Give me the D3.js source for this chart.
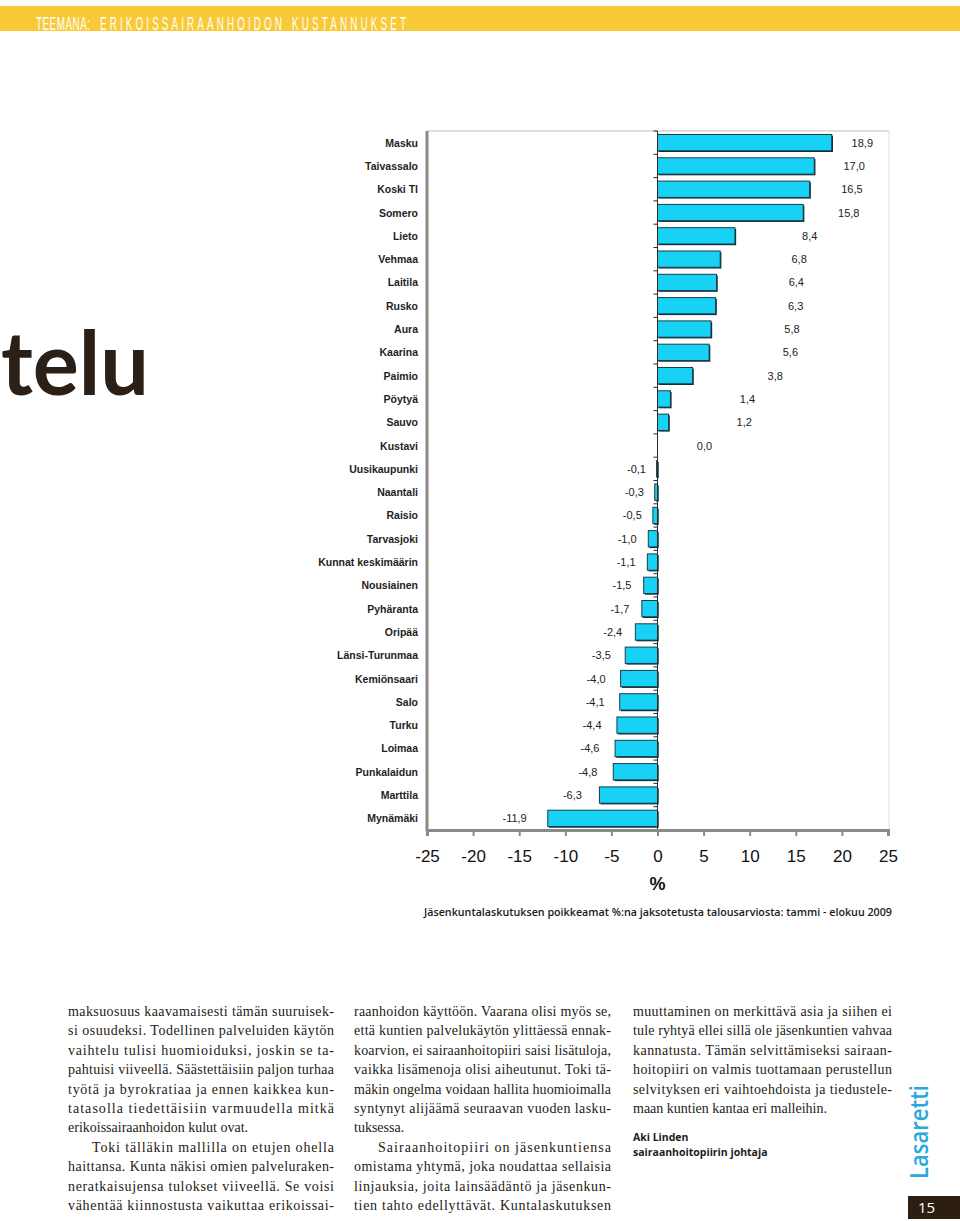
<!DOCTYPE html>
<html><head><meta charset="utf-8">
<script src="https://cdn.jsdelivr.net/npm/d3@7"></script>
<style>
html,body{margin:0;padding:0;background:#fff;}
svg{display:block;}
</style></head>
<body>
<svg id="c" width="960" height="1221"></svg>
<script>
const categories = ["Masku","Taivassalo","Koski Tl","Somero","Lieto","Vehmaa","Laitila","Rusko","Aura","Kaarina","Paimio","Pöytyä","Sauvo","Kustavi","Uusikaupunki","Naantali","Raisio","Tarvasjoki","Kunnat keskimäärin","Nousiainen","Pyhäranta","Oripää","Länsi-Turunmaa","Kemiönsaari","Salo","Turku","Loimaa","Punkalaidun","Marttila","Mynämäki"];
const values = [18.9,17.0,16.5,15.8,8.4,6.8,6.4,6.3,5.8,5.6,3.8,1.4,1.2,0.0,-0.1,-0.3,-0.5,-1.0,-1.1,-1.5,-1.7,-2.4,-3.5,-4.0,-4.1,-4.4,-4.6,-4.8,-6.3,-11.9];
const xTicks = [-25,-20,-15,-10,-5,0,5,10,15,20,25];
const headerParts = ["TEEMANA:", "ERIKOISSAIRAANHOIDON", "KUSTANNUKSET"];
const caption = "Jäsenkuntalaskutuksen poikkeamat %:na jaksotetusta talousarviosta: tammi - elokuu 2009";
const col1 = [
 ["maksuosuus kaavamaisesti tämän suuruisek-",0,1],
 ["si osuudeksi. Todellinen palveluiden käytön",0,1],
 ["vaihtelu tulisi huomioiduksi, joskin se ta-",0,1],
 ["pahtuisi viiveellä. Säästettäisiin paljon turhaa",0,1],
 ["työtä ja byrokratiaa ja ennen kaikkea kun-",0,1],
 ["tatasolla tiedettäisiin varmuudella mitkä",0,1],
 ["erikoissairaanhoidon kulut ovat.",0,0],
 ["Toki tälläkin mallilla on etujen ohella",1,1],
 ["haittansa. Kunta näkisi omien palveluraken-",0,1],
 ["neratkaisujensa tulokset viiveellä. Se voisi",0,1],
 ["vähentää kiinnostusta vaikuttaa erikoissai-",0,1]
];
const col2 = [
 ["raanhoidon käyttöön. Vaarana olisi myös se,",0,1],
 ["että kuntien palvelukäytön ylittäessä ennak-",0,1],
 ["koarvion, ei sairaanhoitopiiri saisi lisätuloja,",0,1],
 ["vaikka lisämenoja olisi aiheutunut. Toki tä-",0,1],
 ["mäkin ongelma voidaan hallita huomioimalla",0,1],
 ["syntynyt alijäämä seuraavan vuoden lasku-",0,1],
 ["tuksessa.",0,0],
 ["Sairaanhoitopiiri on jäsenkuntiensa",1,1],
 ["omistama yhtymä, joka noudattaa sellaisia",0,1],
 ["linjauksia, joita lainsäädäntö ja jäsenkun-",0,1],
 ["tien tahto edellyttävät. Kuntalaskutuksen",0,1]
];
const col3 = [
 ["muuttaminen on merkittävä asia ja siihen ei",0,1],
 ["tule ryhtyä ellei sillä ole jäsenkuntien vahvaa",0,1],
 ["kannatusta. Tämän selvittämiseksi sairaan-",0,1],
 ["hoitopiiri on valmis tuottamaan perustellun",0,1],
 ["selvityksen eri vaihtoehdoista ja tiedustele-",0,1],
 ["maan kuntien kantaa eri malleihin.",0,0]
];
const author = ["Aki Linden", "sairaanhoitopiirin johtaja"];

const svg = d3.select("#c");

// header band
svg.append("rect").attr("x",0).attr("y",6).attr("width",960).attr("height",25).attr("fill","#f9ca38");
const hdr = [[36,54],[100,182],[292,114]];
const hScale = 0.55;
headerParts.forEach((t,i)=>{
  svg.append("text").attr("transform",`translate(${hdr[i][0]},30) scale(${hScale},1)`).text(t)
    .attr("font-family","'Liberation Sans',Arial,sans-serif")
    .attr("font-size",18).attr("fill","#fff")
    .attr("textLength",hdr[i][1]/hScale).attr("lengthAdjust","spacing");
});

// big "telu"
svg.append("text").attr("x",1).attr("y",395).text("telu")
  .attr("font-family","Lato, 'Open Sans', sans-serif").attr("font-weight",700)
  .attr("font-size",88).attr("fill","#2b2018")
  .attr("textLength",148).attr("lengthAdjust","spacingAndGlyphs");

// chart
const x = d3.scaleLinear().domain([-25,25]).range([427,888]);
const y = d3.scaleBand().domain(categories).range([131,830]).paddingInner(0.3).paddingOuter(0.15);
const g = svg.append("g");

// frame
g.append("line").attr("x1",427).attr("x2",889).attr("y1",131).attr("y2",131).attr("stroke","#d4d4d4").attr("stroke-width",1.5);
g.append("line").attr("x1",889).attr("x2",889).attr("y1",131).attr("y2",830).attr("stroke","#e0e0e0").attr("stroke-width",1);

const data = categories.map((c,i)=>({c, v:values[i]}));
// shadows
g.selectAll("rect.sh").data(data).join("rect").attr("class","sh")
  .attr("x",d=>Math.min(x(0),x(d.v))+1.2).attr("y",d=>y(d.c)+1.2)
  .attr("width",d=>Math.abs(x(d.v)-x(0))).attr("height",y.bandwidth())
  .attr("fill","#0e2a33");
g.selectAll("rect.bar").data(data).join("rect").attr("class","bar")
  .attr("x",d=>Math.min(x(0),x(d.v))).attr("y",d=>y(d.c))
  .attr("width",d=>Math.abs(x(d.v)-x(0))).attr("height",y.bandwidth())
  .attr("fill","#18d2f6").attr("stroke","#1b3d48").attr("stroke-width",1);

// zero line with ticks at band boundaries
g.append("line").attr("x1",x(0)).attr("x2",x(0)).attr("y1",131).attr("y2",830).attr("stroke","#2a2a2a").attr("stroke-width",1);
const bounds = d3.range(categories.length+1).map(i=>131 + i*y.step());
g.selectAll("line.bt").data(bounds).join("line").attr("class","bt")
  .attr("x1",x(0)-4).attr("x2",x(0)).attr("y1",d=>d).attr("y2",d=>d)
  .attr("stroke","#2a2a2a").attr("stroke-width",1);

// value labels
const labPos = d3.scaleSqrt().domain([0,25]).range([x(0)+47, x(0)+47+181.5]);
g.selectAll("text.val").data(data).join("text").attr("class","val")
  .attr("x",d=> d.v>=0 ? labPos(d.v) : x(d.v*1.12)-20)
  .attr("y",d=>y(d.c)+y.bandwidth()/2+4)
  .attr("text-anchor","middle")
  .attr("font-family","'Liberation Sans',Arial,sans-serif").attr("font-size",11).attr("fill","#222")
  .text(d=>d.v.toFixed(1).replace(".",",").replace(/^-0,0$/,"0,0"));

// category labels
g.selectAll("text.cat").data(categories).join("text").attr("class","cat")
  .attr("x",418).attr("y",d=>y(d)+y.bandwidth()/2+4)
  .attr("text-anchor","end")
  .attr("font-family","'Liberation Sans',Arial,sans-serif").attr("font-size",10.5).attr("font-weight",700).attr("fill","#1e1e1e")
  .text(d=>d);

// left border
g.append("line").attr("x1",427).attr("x2",427).attr("y1",131).attr("y2",831).attr("stroke","#8a8a8a").attr("stroke-width",3);

// x axis
const ax = g.append("g").attr("transform","translate(0,830)")
  .call(d3.axisBottom(x).tickValues(xTicks).tickSize(6).tickPadding(14).tickFormat(d=>String(d)));
ax.select(".domain").attr("stroke","#8a8a8a").attr("stroke-width",3);
ax.selectAll(".tick line").attr("stroke","#8a8a8a").attr("stroke-width",2);
ax.selectAll(".tick text").attr("font-family","'Liberation Sans',Arial,sans-serif").attr("font-size",17).attr("fill","#111");
svg.append("text").attr("x",x(0)).attr("y",890).attr("text-anchor","middle")
  .attr("font-family","'Liberation Sans',Arial,sans-serif").attr("font-size",18).attr("font-weight",700).attr("fill","#111").text("%");

// caption
svg.append("text").attr("x",424).attr("y",916).text(caption)
  .attr("font-family","'Open Sans',sans-serif").attr("font-weight",600).attr("font-size",11).attr("fill","#1a1a1a")
  .attr("textLength",468).attr("lengthAdjust","spacingAndGlyphs");

// body text columns
function column(lines, x0, x1){
  lines.forEach((l,i)=>{
    const indent = l[1] ? 24 : 0;
    const t = svg.append("text").attr("x",x0+indent).attr("y",1016 + i*19.4).text(l[0])
      .attr("font-family","'Liberation Serif','DejaVu Serif',serif").attr("font-size",14).attr("fill","#1e1a16");
    if(l[2]) t.attr("textLength",x1-x0-indent).attr("lengthAdjust","spacing");
  });
}
column(col1, 68, 334);
column(col2, 354, 611);
column(col3, 633, 892);

svg.append("text").attr("x",633).attr("y",1141).text(author[0])
  .attr("font-family","'Open Sans',sans-serif").attr("font-weight",700).attr("font-size",10.5).attr("fill","#1e1a16");
svg.append("text").attr("x",633).attr("y",1156).text(author[1])
  .attr("font-family","'Open Sans',sans-serif").attr("font-weight",700).attr("font-size",10.5).attr("fill","#1e1a16");

// logo
svg.append("text").attr("transform","translate(928,1179) rotate(-90)").text("Lasaretti")
  .attr("font-family","'Open Sans',sans-serif").attr("font-weight",600).attr("font-size",25).attr("fill","#2aa8e0")
  .attr("textLength",94).attr("lengthAdjust","spacingAndGlyphs");

// page number
svg.append("rect").attr("x",908).attr("y",1196).attr("width",52).attr("height",23).attr("fill","#2d1e12");
svg.append("text").attr("x",918).attr("y",1213).text("15")
  .attr("font-family","'Open Sans',sans-serif").attr("font-size",15).attr("fill","#fff");
</script>
</body></html>
